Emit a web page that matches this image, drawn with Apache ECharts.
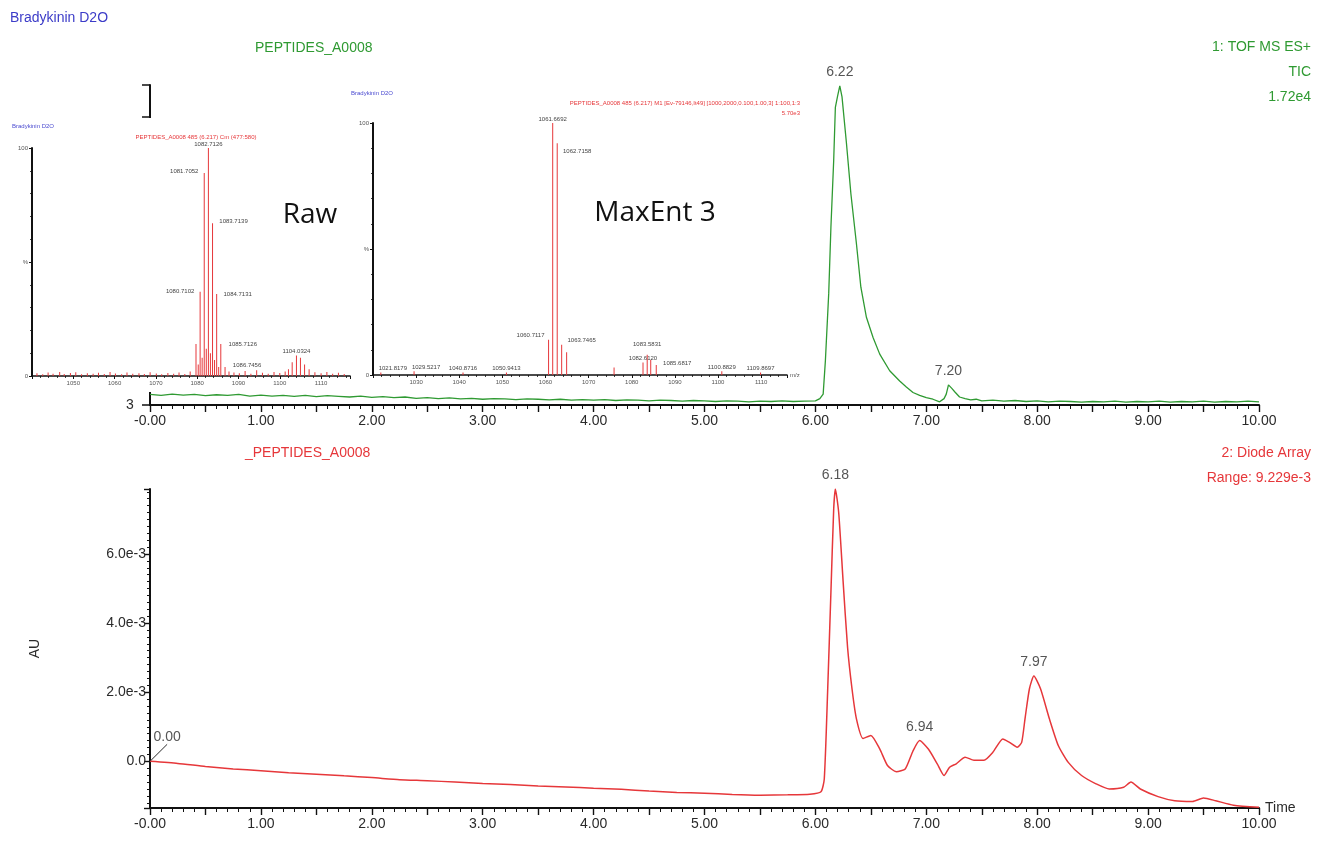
<!DOCTYPE html>
<html>
<head>
<meta charset="utf-8">
<title>Bradykinin D2O – TIC and Diode Array</title>
<script src="https://cdn.jsdelivr.net/npm/echarts@6/dist/echarts.min.js"></script>
<style>
  html, body { margin: 0; padding: 0; background: #fff; }
  #chart { width: 1317px; height: 841px; }
</style>
</head>
<body>
<div id="chart"></div>
<script>
// ---- Trace 1: TOF MS ES+ TIC, retention time (min) vs. % of 1.72e4 ----
const ticTime = [
  0.0, 0.1, 0.2, 0.3, 0.4, 0.5, 0.6, 0.7, 0.8, 0.9,
  1.0, 1.1, 1.2, 1.3, 1.4, 1.5, 1.6, 1.7, 1.8, 1.9,
  2.0, 2.1, 2.2, 2.3, 2.4, 2.5, 2.6, 2.7, 2.8, 2.9,
  3.0, 3.1, 3.2, 3.3, 3.4, 3.5, 3.6, 3.7, 3.8, 3.9,
  4.0, 4.1, 4.2, 4.3, 4.4, 4.5, 4.6, 4.7, 4.8, 4.9,
  5.0, 5.1, 5.2, 5.3, 5.4, 5.5, 5.6, 5.7, 5.8, 5.9,
  6.00, 6.04, 6.07, 6.09, 6.12, 6.14, 6.165, 6.18, 6.20, 6.22, 6.24, 6.28,
  6.32, 6.37, 6.41, 6.46, 6.52, 6.58, 6.67, 6.76, 6.82, 6.88, 6.94, 7.00,
  7.06, 7.12, 7.16, 7.18, 7.20, 7.23, 7.26, 7.30, 7.35, 7.40, 7.45,
  7.5, 7.6, 7.7, 7.8, 7.9, 8.0, 8.1, 8.2, 8.3, 8.4, 8.5, 8.6, 8.7, 8.8, 8.9,
  9.0, 9.1, 9.2, 9.3, 9.4, 9.5, 9.6, 9.7, 9.8, 9.9, 10.0
];
const ticPct = [
  3.3, 3.0, 3.4, 3.1, 3.3, 2.9, 3.2, 3.0, 3.3, 2.8,
  3.1, 2.8, 3.0, 2.7, 3.0, 2.6, 2.9, 2.7, 2.5, 2.8,
  2.4, 2.6, 2.3, 2.5, 2.1, 2.3, 2.0, 2.2, 1.9, 2.1,
  1.8, 2.0, 1.9, 1.7, 1.9, 1.8, 1.6, 1.8, 1.5, 1.7,
  1.5, 1.7, 1.4, 1.6, 1.5, 1.3, 1.5, 1.4, 1.2, 1.4,
  1.3, 1.1, 1.3, 1.2, 1.0, 1.2, 1.1, 1.3, 1.1, 1.2,
  1.3, 2.0, 3.4, 13.8, 34.8, 55.6, 76.5, 93.0, 96.5, 99.7, 96.3, 81.8,
  66.0, 50.4, 36.8, 27.4, 21.1, 15.9, 10.7, 7.5, 5.6, 3.9, 3.0, 2.3,
  1.8, 1.0, 2.0, 3.4, 6.3, 5.2, 4.0, 2.5, 2.0, 1.6, 1.8,
  1.3, 1.5, 1.2, 1.4, 1.1, 1.3, 1.0, 1.2, 1.1, 0.9, 1.1, 1.0, 1.2, 0.9, 1.1,
  1.0, 1.2, 0.9, 1.1, 1.0, 1.2, 0.9, 1.1, 1.0, 1.2, 1.0
];
const ticPeakTimes = [6.22, 7.20];

// ---- Trace 2: Diode Array, absorbance in units of 1e-3 AU ----
const uvTime = [
  0.00, 0.25, 0.50, 0.75, 1.00, 1.25, 1.50, 1.75, 2.00, 2.25, 2.50, 2.75,
  3.00, 3.25, 3.50, 3.75, 4.00, 4.25, 4.50, 4.75, 5.00, 5.25, 5.50, 5.75,
  5.95, 6.05, 6.08, 6.11, 6.14, 6.165, 6.18, 6.21, 6.25, 6.29, 6.33, 6.37,
  6.43, 6.50, 6.58, 6.65, 6.73, 6.81, 6.88, 6.94, 7.02, 7.10, 7.16, 7.21,
  7.27, 7.35, 7.43, 7.52, 7.60, 7.69, 7.75, 7.82, 7.86, 7.89, 7.93, 7.97,
  8.03, 8.11, 8.19, 8.28, 8.40, 8.53, 8.65, 8.78, 8.845, 8.93, 9.09, 9.24,
  9.40, 9.50, 9.61, 9.77, 10.00
];
const uvAbs = [
  0.00, -0.06, -0.15, -0.22, -0.27, -0.33, -0.37, -0.42, -0.47, -0.53, -0.56, -0.60,
  -0.64, -0.67, -0.71, -0.74, -0.78, -0.81, -0.86, -0.90, -0.92, -0.96, -0.98, -0.97,
  -0.95, -0.88, -0.51, 2.00, 4.90, 7.30, 7.88, 7.20, 5.20, 3.30, 2.10, 1.23,
  0.66, 0.75, 0.36, -0.12, -0.30, -0.22, 0.30, 0.60, 0.35, -0.08, -0.41, -0.17,
  -0.07, 0.12, 0.03, 0.03, 0.26, 0.65, 0.55, 0.41, 0.55, 1.23, 2.10, 2.47,
  2.10, 1.23, 0.46, -0.03, -0.41, -0.65, -0.80, -0.75, -0.60, -0.80, -1.02, -1.14,
  -1.16, -1.06, -1.14, -1.27, -1.33
];
const uvPeakTimes = [6.18, 6.94, 7.97];
const uvStartTime = 0.00;

// ---- Axis tick labels ----
const timeLabels = ['-0.00', '1.00', '2.00', '3.00', '4.00', '5.00', '6.00', '7.00', '8.00', '9.00', '10.00'];
const auLabels = ['0.0', '2.0e-3', '4.0e-3', '6.0e-3'];
const pctLabels = ['0', '%', '100'];

// ---- Inset: raw spectrum, m/z vs. % ----
const rawMz = [
  1041.2, 1042.6, 1043.9, 1045.1, 1046.7, 1047.8, 1049.3, 1050.6, 1052.0, 1053.4,
  1054.8, 1056.1, 1057.5, 1058.9, 1060.2, 1061.7, 1063.0, 1064.4, 1065.9, 1067.2,
  1068.6, 1070.1, 1071.4, 1072.9, 1074.3, 1075.6, 1077.0, 1078.3, 1079.71, 1080.25,
  1080.7102, 1081.2, 1081.7052, 1082.2, 1082.7126, 1083.2, 1083.7139, 1084.2, 1084.7131, 1085.2,
  1085.7126, 1086.7456, 1087.7, 1088.9, 1090.2, 1091.6, 1093.0, 1094.4, 1095.8, 1097.2,
  1098.6, 1100.0, 1101.3, 1102.1, 1103.0, 1104.0324, 1105.0, 1106.0, 1107.1, 1108.5,
  1110.0, 1111.4, 1112.8, 1114.2, 1115.6
];
const rawPct = [
  1.2, 0.8, 1.5, 1.0, 1.8, 0.9, 1.3, 1.6, 0.8, 1.2,
  1.0, 1.4, 0.9, 1.7, 1.1, 0.8, 1.5, 1.0, 1.2, 0.9,
  1.6, 1.1, 0.8, 1.3, 1.0, 1.5, 0.9, 2.0, 14.0, 5.0,
  37.0, 8.0, 89.0, 12.0, 100.0, 10.0, 67.0, 7.0, 36.0, 4.0,
  14.0, 4.0, 2.0, 1.5, 1.2, 2.2, 1.0, 2.5, 1.4, 1.0,
  1.8, 1.3, 2.0, 3.0, 6.0, 9.0, 8.0, 5.0, 3.0, 1.6,
  1.2, 1.8, 1.0, 1.4, 0.9
];
const rawLabelled = [1080.7102, 1081.7052, 1082.7126, 1083.7139, 1084.7131, 1085.7126, 1086.7456, 1104.0324];

// ---- Inset: MaxEnt 3 spectrum, m/z vs. % ----
const maxentMz = [
  1021.8179, 1029.5217, 1040.8716, 1050.9413, 1060.7117, 1061.6692, 1062.7158, 1063.7465,
  1064.90, 1075.90, 1082.6120, 1083.5831, 1084.40, 1085.6817, 1100.8829, 1109.8697
];
const maxentPct = [
  1.0, 1.5, 1.0, 1.0, 14.0, 100.0, 92.0, 12.0,
  9.0, 3.0, 5.0, 8.0, 6.0, 4.0, 1.5, 1.0
];
const maxentLabelled = [1021.8179, 1029.5217, 1040.8716, 1050.9413, 1060.7117, 1061.6692, 1062.7158,
  1063.7465, 1082.6120, 1083.5831, 1085.6817, 1100.8829, 1109.8697];

// ---- styling ----
const FONT = '"Liberation Sans", Arial, sans-serif';
const GREEN = '#2f9a32';
const RED = '#e6373a';
const INK = '#2a2a2a';
const AXIS = '#111111';

// peak-label nudges inside the spectrum insets (pixels)
const rawLabelOffset = {
  '1080.7102': [-20, 4], '1081.7052': [-20, 2], '1083.7139': [21, 2], '1084.7131': [21, 4],
  '1085.7126': [22, 4], '1086.7456': [22, 2]
};
const maxentLabelOffset = {
  '1021.8179': [12, 0], '1029.5217': [12, 0], '1060.7117': [-18, 0], '1062.7158': [20, 12],
  '1063.7465': [20, 0], '1082.6120': [-20, 2], '1083.5831': [0, -6], '1085.6817': [21, 2]
};

const pairs = (xs, ys) => xs.map((x, i) => [x, ys[i]]);
const pick = (xs, ys, wanted) => wanted.map(t => { const i = xs.indexOf(t); return [xs[i], ys[i]]; });

function timeAxis(gridIndex, withName) {
  return {
    type: 'value', gridIndex, min: 0, max: 10, interval: 0.5,
    axisLine: { show: true, onZero: false, lineStyle: { color: AXIS, width: 2 } },
    axisTick: { show: true, length: 7, lineStyle: { color: AXIS, width: 1.4 } },
    minorTick: { show: true, splitNumber: 5, length: 4, lineStyle: { color: AXIS, width: 1 } },
    splitLine: { show: false }, minorSplitLine: { show: false },
    axisLabel: {
      fontFamily: FONT, fontSize: 14, color: INK, margin: 9,
      formatter: v => { const r = Math.round(v); return Math.abs(v - r) < 1e-6 ? timeLabels[r] : ''; }
    },
    name: withName ? 'Time' : '',
    nameLocation: 'end', nameGap: 6,
    nameTextStyle: { fontFamily: FONT, fontSize: 14, color: INK }
  };
}

function spectrumXAxis(gridIndex, min, max, name) {
  return {
    type: 'value', gridIndex, min, max, interval: 10, z: 10,
    axisLine: { show: true, onZero: false, lineStyle: { color: AXIS, width: 1.6 } },
    axisTick: { show: true, length: 3, lineStyle: { color: AXIS, width: 1 } },
    minorTick: { show: true, splitNumber: 5, length: 2, lineStyle: { color: AXIS, width: 0.8 } },
    splitLine: { show: false },
    axisLabel: {
      fontFamily: FONT, fontSize: 6, color: '#555', margin: 4,
      showMinLabel: false, showMaxLabel: false,
      formatter: v => String(Math.round(v))
    },
    name: name || '', nameLocation: 'end', nameGap: 3,
    nameTextStyle: { fontFamily: FONT, fontSize: 6, color: '#555' }
  };
}

function spectrumYAxis(gridIndex) {
  return {
    type: 'value', gridIndex, min: 0, max: 100, interval: 50, z: 10,
    axisLine: { show: true, onZero: false, lineStyle: { color: AXIS, width: 2 } },
    axisTick: { show: true, length: 3, lineStyle: { color: AXIS, width: 1 } },
    minorTick: { show: true, splitNumber: 5, length: 2, lineStyle: { color: AXIS, width: 0.8 } },
    splitLine: { show: false },
    axisLabel: { fontFamily: FONT, fontSize: 6, color: '#555', margin: 4, formatter: v => pctLabels[Math.round(v / 50)] }
  };
}

function stickData(mzs, pcts, labelled, offsets) {
  return mzs.map((m, i) => {
    const item = { value: [m, pcts[i]] };
    if (labelled.includes(m)) {
      item.label = { show: true, offset: offsets[String(m)] || [0, 0] };
    }
    return item;
  });
}

function stickSeries(xi, mzs, pcts, labelled, offsets) {
  return {
    type: 'bar', xAxisIndex: xi, yAxisIndex: xi, z: 10,
    barWidth: 1, barMinHeight: 0,
    itemStyle: { color: RED },
    label: {
      show: false, position: 'top', distance: 1,
      fontFamily: FONT, fontSize: 6, color: '#444',
      formatter: p => p.value[0].toFixed(4)
    },
    data: stickData(mzs, pcts, labelled, offsets),
    animation: false
  };
}

const text = (str, x, y, opts) => ({
  type: 'text', x, y, z: 20,
  style: Object.assign({
    text: str, fill: INK, font: '14px ' + FONT,
    textAlign: 'left', textVerticalAlign: 'middle', align: 'left', verticalAlign: 'middle'
  }, opts || {})
});

const chart = echarts.init(document.getElementById('chart'), null, { renderer: 'canvas' });

chart.setOption({
  backgroundColor: '#ffffff',
  animation: false,
  grid: [
    { left: 150, top: 85, width: 1109, height: 320 },
    { left: 150, top: 489, width: 1109, height: 319 },
    { left: 32, top: 148, width: 318, height: 228 },
    { left: 373, top: 123, width: 414, height: 252 }
  ],
  xAxis: [
    timeAxis(0, false),
    timeAxis(1, true),
    spectrumXAxis(2, 1040, 1117),
    spectrumXAxis(3, 1020, 1116, 'm/z')
  ],
  yAxis: [
    {
      type: 'value', gridIndex: 0, min: 0, max: 100, interval: 10,
      axisLine: { show: true, onZero: false, lineStyle: { color: AXIS, width: 2 } },
      axisTick: { show: true, length: 8, lineStyle: { color: AXIS, width: 1.5 } },
      axisLabel: { show: false }, splitLine: { show: false }
    },
    {
      type: 'value', gridIndex: 1, min: -1.35, max: 7.88, splitNumber: 5,
      axisLine: { show: true, onZero: false, lineStyle: { color: AXIS, width: 2 } },
      axisTick: { show: true, length: 6, lineStyle: { color: AXIS, width: 1.4 } },
      minorTick: { show: true, splitNumber: 10, length: 3, lineStyle: { color: AXIS, width: 1 } },
      splitLine: { show: false }, minorSplitLine: { show: false },
      axisLabel: {
        fontFamily: FONT, fontSize: 14, color: INK, margin: 4,
        showMinLabel: false, showMaxLabel: false,
        formatter: v => { const r = Math.round(v / 2); return Math.abs(v - 2 * r) < 1e-6 && auLabels[r] ? auLabels[r] : ''; }
      },
      name: 'AU', nameLocation: 'middle', nameGap: 108, nameRotate: 90,
      nameTextStyle: { fontFamily: FONT, fontSize: 14, color: INK }
    },
    spectrumYAxis(2),
    spectrumYAxis(3)
  ],
  graphic: {
    elements: [
      // white panels of the two spectrum insets
      { type: 'rect', z: 5, shape: { x: 4, y: 118, width: 348, height: 274 }, style: { fill: '#ffffff' } },
      { type: 'rect', z: 5, shape: { x: 352, y: 84, width: 451, height: 308 }, style: { fill: '#ffffff' } },

      text('Bradykinin D2O', 10, 18, { fill: '#3c3cc8', font: '14px ' + FONT }),
      text('PEPTIDES_A0008', 255, 48, { fill: GREEN, font: '14px ' + FONT }),
      text('1: TOF MS ES+', 1311, 47, { fill: GREEN, textAlign: 'right', align: 'right' }),
      text('TIC', 1311, 72, { fill: GREEN, textAlign: 'right', align: 'right' }),
      text('1.72e4', 1311, 97, { fill: GREEN, textAlign: 'right', align: 'right' }),
      text('3', 126, 405, {}),
      text('_PEPTIDES_A0008', 245, 453, { fill: RED }),
      text('2: Diode Array', 1311, 453, { fill: RED, textAlign: 'right', align: 'right' }),
      text('Range: 9.229e-3', 1311, 478, { fill: RED, textAlign: 'right', align: 'right' }),

      // inset headers
      text('Bradykinin D2O', 12, 126, { fill: '#4a4ad0', font: '6px ' + FONT }),
      text('PEPTIDES_A0008 485 (6.217) Cm (477:580)', 196, 137, { fill: RED, font: '6px ' + FONT, textAlign: 'center', align: 'center' }),
      text('Bradykinin D2O', 351, 93, { fill: '#4a4ad0', font: '6px ' + FONT }),
      text('PEPTIDES_A0008 485 (6.217) M1 [Ev-79146,It49] [1000,2000,0.100,1.00,3] 1:100,1:3', 800, 103,
        { fill: RED, font: '6px ' + FONT, textAlign: 'right', align: 'right' }),
      text('5.70e3', 800, 113, { fill: RED, font: '6px ' + FONT, textAlign: 'right', align: 'right' }),
      text('Raw', 310, 215, { fill: '#111', font: '28px "Open Sans", Lato, sans-serif', textAlign: 'center', align: 'center' }),
      text('MaxEnt 3', 655, 213, { fill: '#111', font: '28px "Open Sans", Lato, sans-serif', textAlign: 'center', align: 'center' })
    ]
  },
  series: [
    {
      name: 'TIC', type: 'line', xAxisIndex: 0, yAxisIndex: 0, z: 3,
      showSymbol: false, symbol: 'none',
      lineStyle: { color: GREEN, width: 1.3 },
      data: pairs(ticTime, ticPct)
    },
    {
      name: 'TIC peaks', type: 'scatter', xAxisIndex: 0, yAxisIndex: 0, z: 4,
      symbolSize: 1, itemStyle: { color: 'rgba(0,0,0,0)' },
      label: {
        show: true, position: 'top', distance: 6,
        fontFamily: FONT, fontSize: 14, color: INK,
        formatter: p => p.value[0].toFixed(2)
      },
      data: pick(ticTime, ticPct, ticPeakTimes)
    },
    {
      name: 'Diode Array', type: 'line', xAxisIndex: 1, yAxisIndex: 1, z: 3,
      showSymbol: false, symbol: 'none', smooth: 0.2,
      lineStyle: { color: RED, width: 1.5 },
      data: pairs(uvTime, uvAbs)
    },
    {
      name: 'Diode Array peaks', type: 'scatter', xAxisIndex: 1, yAxisIndex: 1, z: 4,
      symbolSize: 1, itemStyle: { color: 'rgba(0,0,0,0)' },
      label: {
        show: true, position: 'top', distance: 6,
        fontFamily: FONT, fontSize: 14, color: INK,
        formatter: p => p.value[0].toFixed(2)
      },
      data: pick(uvTime, uvAbs, uvPeakTimes)
    },
    {
      name: 'Diode Array start', type: 'scatter', xAxisIndex: 1, yAxisIndex: 1, z: 4,
      symbolSize: 1, itemStyle: { color: 'rgba(0,0,0,0)' },
      label: {
        show: true, position: 'right', distance: 0,
        fontFamily: FONT, fontSize: 14, color: INK,
        formatter: p => p.value[0].toFixed(2)
      },
      labelLayout: { dx: 3, dy: -24 },
      labelLine: { show: true, lineStyle: { color: INK, width: 1 } },
      data: pick(uvTime, uvAbs, [uvStartTime])
    },
    stickSeries(2, rawMz, rawPct, rawLabelled, rawLabelOffset),
    stickSeries(3, maxentMz, maxentPct, maxentLabelled, maxentLabelOffset)
  ]
});
</script>
</body>
</html>
